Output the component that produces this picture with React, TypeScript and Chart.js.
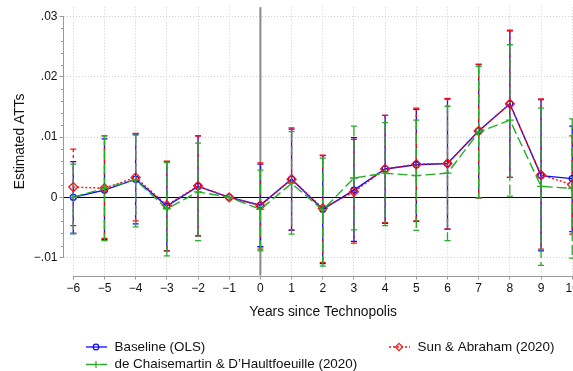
import React, { useEffect, useRef } from 'react';
import { Chart, registerables } from 'chart.js';

Chart.register(...registerables);

// ---- data ----
const years = [-6, -5, -4, -3, -2, -1, 0, 1, 2, 3, 4, 5, 6, 7, 8, 9, 10];
const xTickLabels = ['\u22126', '\u22125', '\u22124', '\u22123', '\u22122', '\u22121', '0', '1', '2', '3', '4', '5', '6', '7', '8', '9', '10'];
const yTickValues = [-0.01, 0, 0.01, 0.02, 0.03];
const yTickLabels = ['\u2212.01', '0', '.01', '.02', '.03'];

const baseline = [0, 0.0012, 0.0030, -0.00145, 0.0018, 0, -0.0013, 0.0030, -0.0020, 0.0012, 0.0047, 0.0054, 0.0056, 0.0110, 0.0155, 0.0036, 0.0031];
const baselineLo = [-0.0060, -0.0070, -0.0044, -0.0089, -0.0064, null, -0.0082, -0.0055, -0.0110, -0.0073, -0.0043, -0.0040, -0.0053, -0.0001, 0.0033, -0.0089, -0.0057];
const baselineHi = [0.0059, 0.0097, 0.0105, 0.0059, 0.0102, null, 0.0055, 0.0113, 0.0069, 0.0099, 0.0136, 0.0146, 0.0163, 0.0220, 0.0276, 0.0162, 0.0118];

const sunAbraham = [0.0017, 0.0015, 0.0033, -0.0013, 0.0019, 0, -0.0014, 0.0030, -0.0018, 0.0009, 0.0047, 0.0055, 0.0056, 0.0110, 0.0155, 0.0037, 0.0021];
const sunAbrahamLo = [-0.0047, -0.0068, -0.0039, -0.0089, -0.0064, null, -0.0086, -0.0054, -0.0108, -0.0076, -0.0042, -0.0039, -0.0053, -0.0001, 0.0033, -0.0086, -0.0061];
const sunAbrahamHi = [0.0080, 0.0102, 0.0106, 0.0060, 0.0102, null, 0.0057, 0.0115, 0.0070, 0.0096, 0.0136, 0.0148, 0.0164, 0.0221, 0.0277, 0.0163, 0.0102];

const dcdh = [0, 0.0015, 0.0029, -0.0019, 0.0009, 0, -0.0020, 0.0023, -0.0021, 0.0032, 0.0040, 0.0036, 0.0040, 0.0108, 0.0128, 0.0018, 0.0015];
const dcdhLo = [-0.0060, -0.0072, -0.0049, -0.0097, -0.0072, null, -0.0089, -0.0061, -0.0114, -0.0054, -0.0047, -0.0055, -0.0072, -0.0001, 0.0002, -0.0113, -0.0101];
const dcdhHi = [0.0055, 0.0102, 0.0103, 0.0058, 0.0090, null, 0.0045, 0.0109, 0.0065, 0.0118, 0.0124, 0.0128, 0.0151, 0.0217, 0.0253, 0.0148, 0.0130];

const labels = ['Baseline (OLS)', 'Sun & Abraham (2020)', 'de Chaisemartin & D\u2019Haultfoeuille (2020)'];
const xTitle = 'Years since Technopolis';
const yTitle = 'Estimated ATTs';

// ---- styles ----
const FONT = '"Liberation Sans", Arial, Helvetica, sans-serif';
const BLUE = '#0a0aff';
const RED = '#ff1010';
const GREEN = '#26ac26';

const series = [
  { label: labels[0], est: baseline, lo: baselineLo, hi: baselineHi, color: BLUE, dash: [] as number[], barDash: [] as number[], marker: 'circle', radius: 3, order: 3 },
  { label: labels[1], est: sunAbraham, lo: sunAbrahamLo, hi: sunAbrahamHi, color: RED, dash: [2, 2], barDash: [3, 3], marker: 'rectRot', radius: 4.5, order: 2 },
  { label: labels[2], est: dcdh, lo: dcdhLo, hi: dcdhHi, color: GREEN, dash: [10, 4], barDash: [10, 4], marker: 'cross', radius: 4, order: 1 },
];

function drawMarker(ctx: CanvasRenderingContext2D, style: string, x: number, y: number, r: number, color: string) {
  ctx.save();
  ctx.setLineDash([]);
  ctx.strokeStyle = color;
  ctx.lineWidth = 1.2;
  ctx.beginPath();
  if (style === 'circle') {
    ctx.arc(x, y, r, 0, Math.PI * 2);
  } else if (style === 'rectRot') {
    ctx.moveTo(x, y - r);
    ctx.lineTo(x + r, y);
    ctx.lineTo(x, y + r);
    ctx.lineTo(x - r, y);
    ctx.closePath();
  } else {
    ctx.moveTo(x - r, y);
    ctx.lineTo(x + r, y);
    ctx.moveTo(x, y - r);
    ctx.lineTo(x, y + r);
  }
  ctx.stroke();
  ctx.restore();
}

const stataPlugin = {
  id: 'stataDecor',
  beforeDatasetsDraw(chart: any) {
    const { ctx, chartArea } = chart;
    const xs = chart.scales.x;
    const ys = chart.scales.y;
    ctx.save();
    // reference line at 0 (horizontal)
    const y0 = Math.round(ys.getPixelForValue(0)) + 0.5;
    ctx.strokeStyle = '#000';
    ctx.lineWidth = 1;
    ctx.setLineDash([]);
    ctx.beginPath();
    ctx.moveTo(chartArea.left, y0);
    ctx.lineTo(chartArea.right, y0);
    ctx.stroke();
    // vertical line at 0
    const x0 = xs.getPixelForValue(0);
    ctx.strokeStyle = '#8a8a8a';
    ctx.lineWidth = 2;
    ctx.beginPath();
    ctx.moveTo(x0, chartArea.top);
    ctx.lineTo(x0, chartArea.bottom);
    ctx.stroke();
    // error bars
    series.forEach((s) => {
      ctx.strokeStyle = s.color;
      ctx.lineWidth = 1.3;
      years.forEach((yr, i) => {
        const lo = s.lo[i];
        const hi = s.hi[i];
        if (lo == null || hi == null) return;
        const px = xs.getPixelForValue(yr);
        const pl = ys.getPixelForValue(lo);
        const ph = ys.getPixelForValue(hi);
        ctx.setLineDash(s.barDash);
        ctx.beginPath();
        ctx.moveTo(px, ph);
        ctx.lineTo(px, pl);
        ctx.stroke();
        ctx.setLineDash([]);
        ctx.beginPath();
        ctx.moveTo(px - 3, ph);
        ctx.lineTo(px + 3, ph);
        ctx.moveTo(px - 3, pl);
        ctx.lineTo(px + 3, pl);
        ctx.stroke();
      });
    });
    ctx.restore();
  },
  afterDraw(chart: any) {
    const { ctx, chartArea } = chart;
    const xs = chart.scales.x;
    const ys = chart.scales.y;
    ctx.save();
    ctx.setLineDash([]);
    // axis lines
    ctx.strokeStyle = '#9a9a9a';
    ctx.lineWidth = 1;
    const ax = Math.round(chartArea.left) - 0.5;
    ctx.beginPath();
    ctx.moveTo(ax, ys.getPixelForValue(yTickValues[yTickValues.length - 1]));
    ctx.lineTo(ax, ys.getPixelForValue(yTickValues[0]));
    ctx.stroke();
    const ay = Math.round(chartArea.bottom) + 0.5;
    ctx.beginPath();
    ctx.moveTo(xs.getPixelForValue(years[0]), ay);
    ctx.lineTo(chartArea.right, ay);
    ctx.stroke();
    // minor ticks on y
    ctx.beginPath();
    for (let k = 0; k <= 20; k++) {
      if (k % 5 === 0) continue;
      const v = yTickValues[0] + k * 0.002;
      const py = Math.round(ys.getPixelForValue(v)) + 0.5;
      ctx.moveTo(ax - 2.5, py);
      ctx.lineTo(ax, py);
    }
    ctx.stroke();
    // axis titles
    ctx.fillStyle = '#111';
    ctx.font = `13.8px ${FONT}`;
    ctx.textAlign = 'center';
    ctx.textBaseline = 'middle';
    ctx.fillText(xTitle, (chartArea.left + chartArea.right) / 2, 312);
    ctx.save();
    ctx.translate(20.5, (chartArea.top + chartArea.bottom) / 2);
    ctx.rotate(-Math.PI / 2);
    ctx.fillText(yTitle, 0, 0);
    ctx.restore();
    // legend
    const items = [
      { s: series[0], x: 86, y: 347 },
      { s: series[1], x: 389, y: 347 },
      { s: series[2], x: 86, y: 364.5 },
    ];
    ctx.font = `13.4px ${FONT}`;
    ctx.textAlign = 'left';
    items.forEach(({ s, x, y }) => {
      ctx.strokeStyle = s.color;
      ctx.lineWidth = 1.3;
      ctx.setLineDash(s.dash);
      ctx.beginPath();
      ctx.moveTo(x, y);
      ctx.lineTo(x + 21, y);
      ctx.stroke();
      drawMarker(ctx, s.marker, x + 10, y, s.marker === 'circle' ? 2.8 : 3.6, s.color);
      ctx.fillStyle = '#111';
      ctx.fillText(s.label, x + 28.5, y);
    });
    ctx.restore();
  },
};

export default function App() {
  const canvasRef = useRef<HTMLCanvasElement | null>(null);

  useEffect(() => {
    const canvas = canvasRef.current;
    if (!canvas) return;
    const chart = new Chart(canvas, {
      type: 'line',
      data: {
        datasets: series.map((s) => ({
          label: s.label,
          data: years.map((yr, i) => ({ x: yr, y: s.est[i] })),
          borderColor: s.color,
          borderWidth: 1.4,
          borderDash: s.dash,
          pointStyle: s.marker as any,
          pointRadius: s.radius,
          pointBorderColor: s.color,
          pointBackgroundColor: 'rgba(0,0,0,0)',
          pointBorderWidth: 1.3,
          tension: 0,
          fill: false,
          order: s.order,
        })),
      },
      options: {
        animation: false,
        responsive: false,
        devicePixelRatio: 1,
        events: [],
        layout: { padding: { top: 7.3, left: 0, right: 0, bottom: 0 } },
        plugins: {
          legend: { display: false },
          tooltip: { enabled: false },
          title: { display: false },
        },
        scales: {
          x: {
            type: 'linear',
            min: -6.298,
            max: 10.32,
            afterFit: (scale: any) => {
              scale.height = 95.5;
              scale.paddingLeft = 0;
              scale.paddingRight = 0;
            },
            afterBuildTicks: (scale: any) => { scale.ticks = years.map((v) => ({ value: v })); },
            ticks: {
              autoSkip: false,
              maxRotation: 0,
              padding: 2,
              color: '#111',
              font: { family: FONT, size: 12 },
              callback: (v: any) => { const i = years.indexOf(Number(v)); return i >= 0 ? xTickLabels[i] : ''; },
            },
            grid: {
              color: '#cfcfcf',
              lineWidth: 1,
              drawTicks: true,
              tickLength: 4,
              tickColor: '#9a9a9a',
              tickWidth: 1,
              tickBorderDash: [],
              borderDash: [1, 2],
            } as any,
            border: { display: false, dash: [1, 2] },
          },
          y: {
            type: 'linear',
            min: -0.012968,
            max: 0.031509,
            afterFit: (scale: any) => {
              scale.width = 64;
              scale.paddingTop = 0;
              scale.paddingBottom = 0;
            },
            afterBuildTicks: (scale: any) => { scale.ticks = yTickValues.map((v) => ({ value: v })); },
            ticks: {
              padding: 2,
              color: '#111',
              font: { family: FONT, size: 12 },
              callback: (v: any) => {
                const i = yTickValues.findIndex((t) => Math.abs(t - Number(v)) < 1e-9);
                return i >= 0 ? yTickLabels[i] : '';
              },
            },
            grid: {
              color: (c: any) => (c.tick && Math.abs(c.tick.value) < 1e-9 ? 'rgba(0,0,0,0)' : '#cfcfcf'),
              lineWidth: 1,
              drawTicks: true,
              tickLength: 4.5,
              tickColor: '#9a9a9a',
              tickWidth: 1,
              tickBorderDash: [],
              borderDash: [1, 2],
            } as any,
            border: { display: false, dash: [1, 2] },
          },
        },
      },
      plugins: [stataPlugin],
    });
    return () => chart.destroy();
  }, []);

  return (
    <div style={{ position: 'fixed', left: 0, top: 0, width: 573, height: 371, overflow: 'hidden', background: '#fff' }}>
      <canvas ref={canvasRef} width={588} height={371} style={{ display: 'block', width: 588, height: 371 }} />
    </div>
  );
}
